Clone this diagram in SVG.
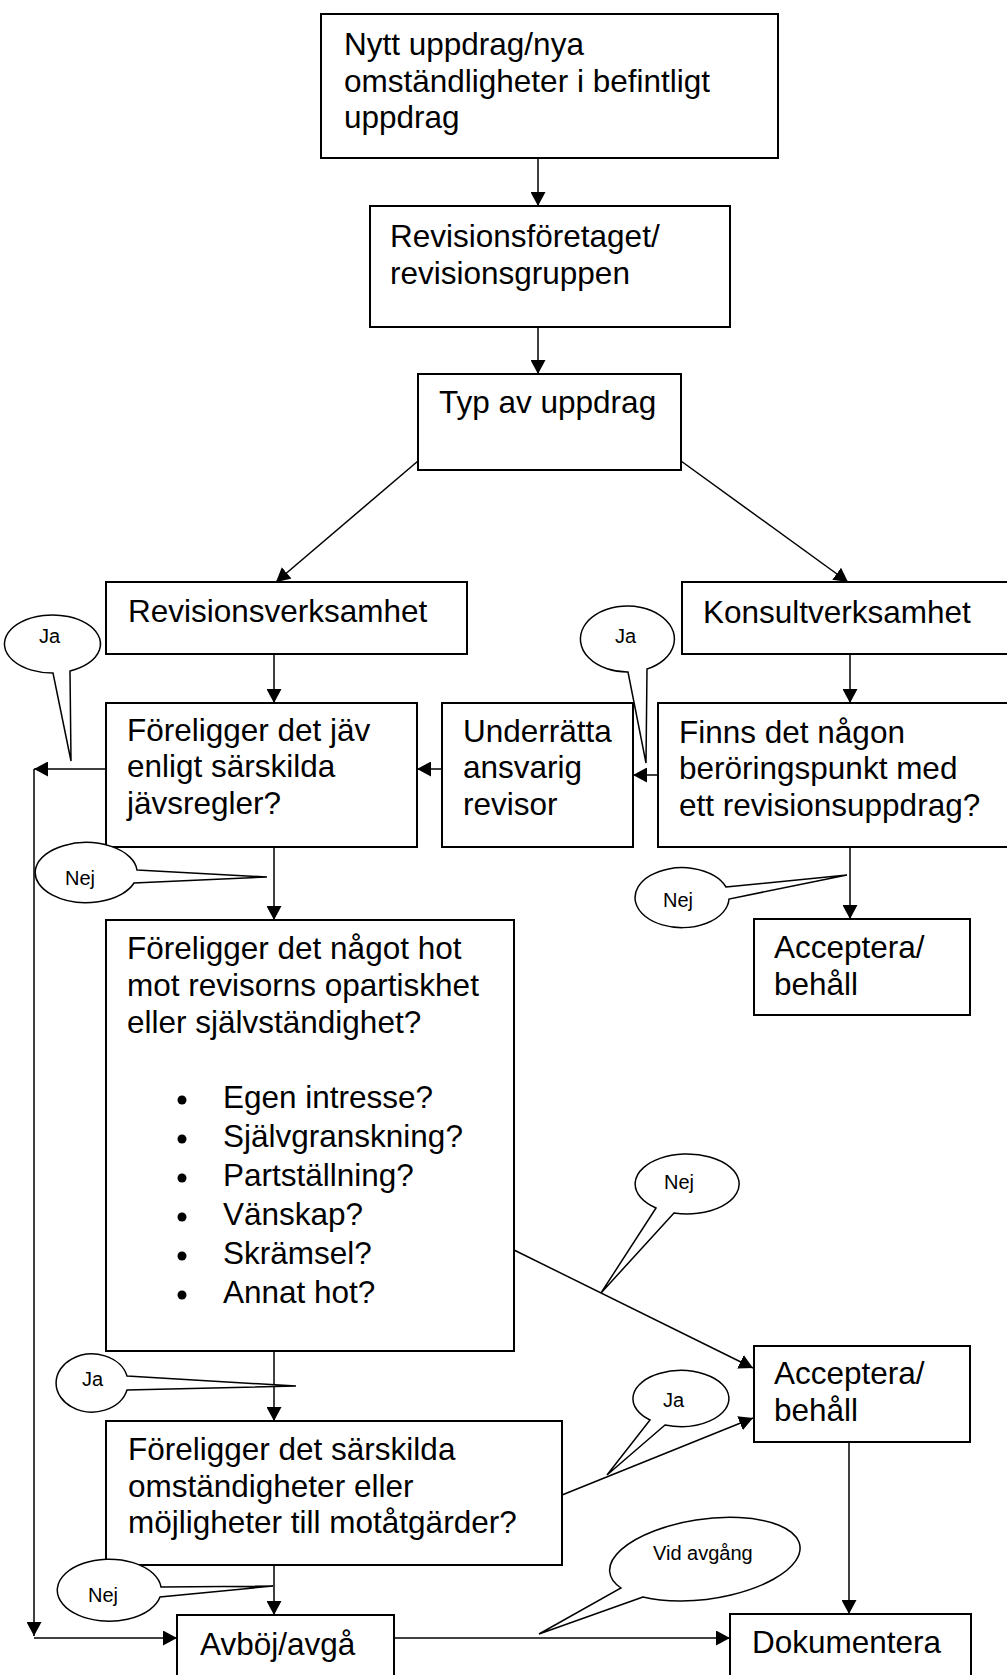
<svg xmlns="http://www.w3.org/2000/svg" width="1007" height="1675" viewBox="0 0 1007 1675">
<style>
  .box { fill: #fff; stroke: #000; stroke-width: 2; }
  .t { font-family: "Liberation Sans", Arial, sans-serif; font-size: 31.5px; fill: #000; }
  .bt { font-family: "Liberation Sans", Arial, sans-serif; font-size: 20px; fill: #000; }
  .c { fill: none; stroke: #000; stroke-width: 1.5; }
  .bub { fill: #fff; stroke: #000; stroke-width: 1.5; stroke-linejoin: miter; }
</style>
<defs>
  <marker id="ah" viewBox="0 0 14 15" refX="14" refY="7.5" markerWidth="14" markerHeight="15" markerUnits="userSpaceOnUse" orient="auto">
    <path d="M0,0 L14,7.5 L0,15 Z" fill="#000"/>
  </marker>
</defs>
<rect width="1007" height="1675" fill="#fff"/>

<g id="connectors">
  <path class="c" d="M538 158 V206" marker-end="url(#ah)"/>
  <path class="c" d="M538 327 V374" marker-end="url(#ah)"/>
  <path class="c" d="M418 461 L276 582" marker-end="url(#ah)"/>
  <path class="c" d="M681 461 L848 582" marker-end="url(#ah)"/>
  <path class="c" d="M274 654 V703" marker-end="url(#ah)"/>
  <path class="c" d="M850 654 V703" marker-end="url(#ah)"/>
  <path class="c" d="M658 775 H633" marker-end="url(#ah)"/>
  <path class="c" d="M442 769 H417" marker-end="url(#ah)"/>
  <path class="c" d="M106 769 H34" marker-end="url(#ah)"/>
  <path class="c" d="M34 769 V1636" marker-end="url(#ah)"/>
  <path class="c" d="M34 1638 H177" marker-end="url(#ah)"/>
  <path class="c" d="M274 847 V920" marker-end="url(#ah)"/>
  <path class="c" d="M850 847 V919" marker-end="url(#ah)"/>
  <path class="c" d="M274 1351 V1421" marker-end="url(#ah)"/>
  <path class="c" d="M514 1250 L753 1368" marker-end="url(#ah)"/>
  <path class="c" d="M562 1495 L753 1418" marker-end="url(#ah)"/>
  <path class="c" d="M274 1565 V1615" marker-end="url(#ah)"/>
  <path class="c" d="M394 1638 H730" marker-end="url(#ah)"/>
  <path class="c" d="M849 1442 V1614" marker-end="url(#ah)"/>
</g>

<g id="n1">
  <rect class="box" x="321" y="14" width="457" height="144"/>
  <text class="t"><tspan x="344" y="55">Nytt uppdrag/nya</tspan><tspan x="344" y="91.5">omständligheter i befintligt</tspan><tspan x="344" y="128">uppdrag</tspan></text>
</g>
<g id="n2">
  <rect class="box" x="370" y="206" width="360" height="121"/>
  <text class="t"><tspan x="390" y="247">Revisionsföretaget/</tspan><tspan x="390" y="283.5">revisionsgruppen</tspan></text>
</g>
<g id="n3">
  <rect class="box" x="418" y="374" width="263" height="96"/>
  <text class="t" x="439" y="413">Typ av uppdrag</text>
</g>
<g id="n4">
  <rect class="box" x="106" y="582" width="361" height="72"/>
  <text class="t" x="128" y="622">Revisionsverksamhet</text>
</g>
<g id="n5">
  <rect class="box" x="682" y="582" width="340" height="72"/>
  <text class="t" x="703" y="623">Konsultverksamhet</text>
</g>
<g id="n6">
  <rect class="box" x="106" y="703" width="311" height="144"/>
  <text class="t"><tspan x="127" y="740.5">Föreligger det jäv</tspan><tspan x="127" y="777">enligt särskilda</tspan><tspan x="127" y="813.5">jävsregler?</tspan></text>
</g>
<g id="n7">
  <rect class="box" x="442" y="703" width="191" height="144"/>
  <text class="t"><tspan x="463" y="741.5">Underrätta</tspan><tspan x="463" y="778">ansvarig</tspan><tspan x="463" y="814.5">revisor</tspan></text>
</g>
<g id="n8">
  <rect class="box" x="658" y="703" width="360" height="144"/>
  <text class="t"><tspan x="679" y="742.5">Finns det någon</tspan><tspan x="679" y="779">beröringspunkt med</tspan><tspan x="679" y="815.5">ett revisionsuppdrag?</tspan></text>
</g>
<g id="n9">
  <rect class="box" x="754" y="919" width="216" height="96"/>
  <text class="t"><tspan x="774" y="958">Acceptera/</tspan><tspan x="774" y="995">behåll</tspan></text>
</g>
<g id="n10">
  <rect class="box" x="106" y="920" width="408" height="431"/>
  <text class="t"><tspan x="127" y="959">Föreligger det något hot</tspan><tspan x="127" y="996">mot revisorns opartiskhet</tspan><tspan x="127" y="1033">eller självständighet?</tspan></text>
  <g fill="#000">
    <circle cx="182" cy="1100" r="4.5"/>
    <circle cx="182" cy="1139" r="4.5"/>
    <circle cx="182" cy="1178" r="4.5"/>
    <circle cx="182" cy="1217" r="4.5"/>
    <circle cx="182" cy="1256" r="4.5"/>
    <circle cx="182" cy="1295" r="4.5"/>
  </g>
  <text class="t"><tspan x="223" y="1108">Egen intresse?</tspan><tspan x="223" y="1147">Självgranskning?</tspan><tspan x="223" y="1186">Partställning?</tspan><tspan x="223" y="1225">Vänskap?</tspan><tspan x="223" y="1264">Skrämsel?</tspan><tspan x="223" y="1303">Annat hot?</tspan></text>
</g>
<g id="n11">
  <rect class="box" x="754" y="1346" width="216" height="96"/>
  <text class="t"><tspan x="774" y="1384">Acceptera/</tspan><tspan x="774" y="1421">behåll</tspan></text>
</g>
<g id="n12">
  <rect class="box" x="106" y="1421" width="456" height="144"/>
  <text class="t"><tspan x="128" y="1460">Föreligger det särskilda</tspan><tspan x="128" y="1496.5">omständigheter eller</tspan><tspan x="128" y="1533">möjligheter till motåtgärder?</tspan></text>
</g>
<g id="n13">
  <rect class="box" x="177" y="1615" width="217" height="80"/>
  <text class="t" x="200" y="1655">Avböj/avgå</text>
</g>
<g id="n14">
  <rect class="box" x="730" y="1614" width="241" height="80"/>
  <text class="t" x="752" y="1653">Dokumentera</text>
</g>

<g id="bubbles">
  <g id="b-ja1">
    <path class="bub" d="M70 671 L71 761 L53 673 A48 29 0 1 1 70 671 Z"/>
    <text class="bt" x="39" y="643">Ja</text>
  </g>
  <g id="b-nej1">
    <path class="bub" d="M137 870 L267 877 L134 883 A51 30 0 1 1 137 870 Z"/>
    <text class="bt" x="65" y="885">Nej</text>
  </g>
  <g id="b-ja2">
    <path class="bub" d="M647 669 L646 763 L628 672 A47 33 0 1 1 647 669 Z"/>
    <text class="bt" x="615" y="643">Ja</text>
  </g>
  <g id="b-nej2">
    <path class="bub" d="M726 887 L847 875 L729 899 A47 30 0 1 1 726 887 Z"/>
    <text class="bt" x="663" y="907">Nej</text>
  </g>
  <g id="b-nej3">
    <path class="bub" d="M674 1213 L601 1293 L656 1208 A52 30 0 1 1 674 1213 Z"/>
    <text class="bt" x="664" y="1189">Nej</text>
  </g>
  <g id="b-ja3">
    <path class="bub" d="M127 1376 L296 1386 L127 1390 A36 29 0 1 1 127 1376 Z"/>
    <text class="bt" x="82" y="1386">Ja</text>
  </g>
  <g id="b-ja4">
    <path class="bub" d="M665 1425 L607 1475 L650 1420 A48 28 0 1 1 665 1425 Z"/>
    <text class="bt" x="663" y="1407">Ja</text>
  </g>
  <g id="b-nej4">
    <path class="bub" d="M161 1587 L273 1586 L160 1597 A52 31 0 1 1 161 1587 Z"/>
    <text class="bt" x="88" y="1602">Nej</text>
  </g>
  <g id="b-vid">
    <path class="bub" d="M643 1597 L539 1634 L621 1588 A96 40 -8 1 1 643 1597 Z"/>
    <text class="bt" x="653" y="1560">Vid avgång</text>
  </g>
</g>
</svg>
